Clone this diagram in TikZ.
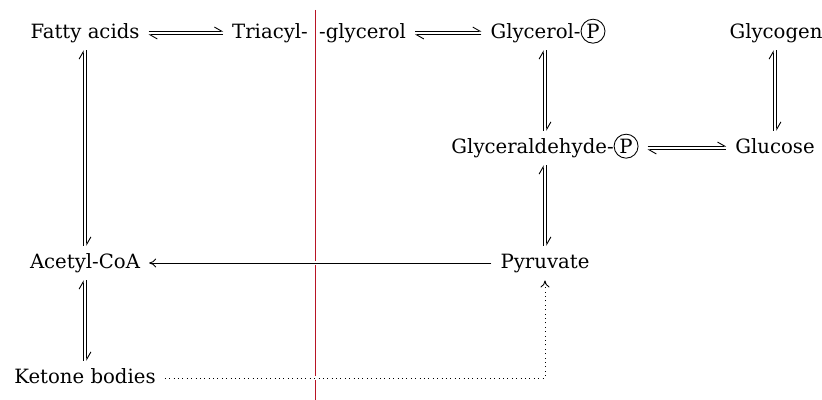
\documentclass[tikz,border=0pt]{standalone}
\usepackage{fontspec}
\setmainfont{DejaVu Serif}
\usepackage{tikz}
\usetikzlibrary{arrows.meta}
\definecolor{mejared}{rgb}{0.72,0.08,0.14}
\newcommand{\fosfat}{\tikz[baseline=(p.base)]\node[draw, circle, inner sep=0.9pt, line width=0.5pt] (p) {P};}
\tikzset{
	shema/.style={font=\fontsize{11.2}{13}\selectfont, >={To[length=1.4mm,width=1.8mm]}},
	snov/.style={inner xsep=5pt, inner ysep=4pt, text height=8.8pt, text depth=2.7pt},
	harp/.style={-{Straight Barb[harpoon,length=1.4mm,width=1.6mm]}, line width=0.5pt},
	tok/.style={->, line width=0.5pt, preaction={draw=white, line width=2pt}},
	pika/.style={->, dotted, line width=0.5pt, preaction={draw=white, line width=2pt}},
	meja/.style={draw=mejared, line width=0.5pt},
}
% ravnotezje: zgornja/desna crta naprej, spodnja/leva nazaj
\newcommand{\ravnh}[2]{%
  \draw[harp, transform canvas={yshift=1.1pt}] (#1) -- (#2);
  \draw[harp, transform canvas={yshift=-1.1pt}] (#2) -- (#1);}
\newcommand{\ravnv}[2]{%
  \draw[harp, transform canvas={xshift=1.1pt}] (#1) -- (#2);
  \draw[harp, transform canvas={xshift=-1.1pt}] (#2) -- (#1);}
\begin{document}
\begin{tikzpicture}[shema]
\useasboundingbox (0,0) rectangle (16.44,-8);

\coordinate (mvrh) at (6.3,-0.2);
\coordinate (mdno) at (6.3,-8);
\draw[meja] (mvrh) -- (mdno);

\node[snov] (mk) at (1.7,-0.66) {Fatty acids};
\node[snov, anchor=east] (tri) at (6.34,-0.66) {Triacyl-};
\node[snov, anchor=west] (gli) at (6.2,-0.66) {-glycerol};
\node[snov] (gp) at (10.96,-0.66) {Glycerol-\fosfat};
\node[snov] (glikogen) at (15.52,-0.66) {Glycogen};
\node[snov] (gap) at (10.9,-2.96) {Glyceraldehyde-\fosfat};
\node[snov] (glukoza) at (15.5,-2.96) {Glucose};
\node[snov] (acoa) at (1.7,-5.26) {Acetyl-CoA};
\node[snov] (piruvat) at (10.9,-5.26) {Pyruvate};
\node[snov] (ketoni) at (1.7,-7.56) {Ketone bodies};

\ravnh{mk}{tri}
\ravnh{gli}{gp}
\ravnh{gap}{glukoza}
\ravnv{mk}{acoa}
\ravnv{acoa}{ketoni}
\ravnv{gp.south -| gap}{gap}
\ravnv{gap}{piruvat}
\ravnv{glikogen.south -| glukoza}{glukoza}

\draw[tok] (piruvat) -- (acoa);
\draw[pika] (ketoni) -| (piruvat);

\end{tikzpicture}
\end{document}
